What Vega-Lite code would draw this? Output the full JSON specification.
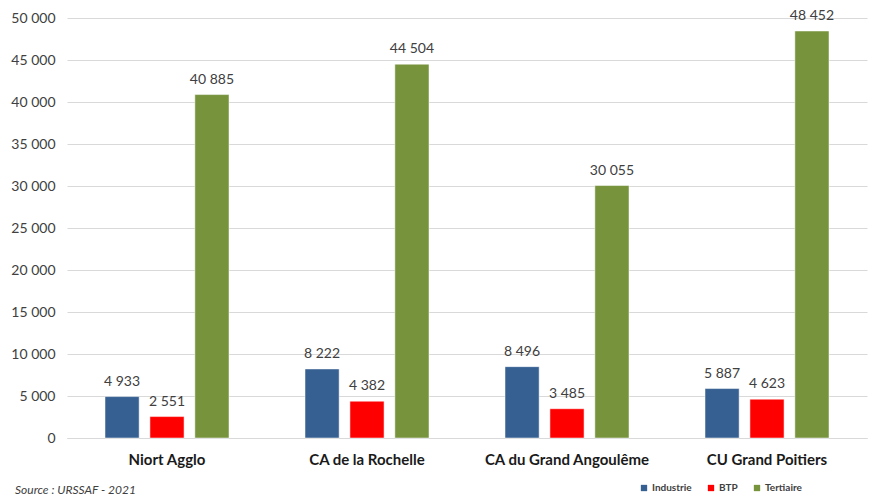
{
  "$schema": "https://vega.github.io/schema/vega-lite/v6.json",
  "width": 800,
  "height": 420,
  "autosize": {"type": "none"},
  "padding": {"left": 67, "top": 18, "right": 8, "bottom": 66},
  "background": "white",
  "config": {
    "locale": {"number": {"decimal": ",", "thousands": " ", "grouping": [3], "currency": ["", " €"]}},
    "font": "Lato",
    "view": {"stroke": null}
  },
  "title": {
    "text": "Source : URSSAF  - 2021",
    "orient": "bottom",
    "anchor": "start",
    "frame": "group",
    "fontStyle": "italic",
    "fontWeight": "normal",
    "fontSize": 12,
    "color": "#404040",
    "dx": -52,
    "offset": -8
  },
  "data": {
    "values": [
      {"territoire": "Niort Agglo", "secteur": "Industrie", "effectif": 4933},
      {"territoire": "Niort Agglo", "secteur": "BTP", "effectif": 2551},
      {"territoire": "Niort Agglo", "secteur": "Tertiaire", "effectif": 40885},
      {"territoire": "CA de la Rochelle", "secteur": "Industrie", "effectif": 8222},
      {"territoire": "CA de la Rochelle", "secteur": "BTP", "effectif": 4382},
      {"territoire": "CA de la Rochelle", "secteur": "Tertiaire", "effectif": 44504},
      {"territoire": "CA du Grand Angoulême", "secteur": "Industrie", "effectif": 8496},
      {"territoire": "CA du Grand Angoulême", "secteur": "BTP", "effectif": 3485},
      {"territoire": "CA du Grand Angoulême", "secteur": "Tertiaire", "effectif": 30055},
      {"territoire": "CU Grand Poitiers", "secteur": "Industrie", "effectif": 5887},
      {"territoire": "CU Grand Poitiers", "secteur": "BTP", "effectif": 4623},
      {"territoire": "CU Grand Poitiers", "secteur": "Tertiaire", "effectif": 48452}
    ]
  },
  "encoding": {
    "x": {
      "field": "territoire",
      "type": "nominal",
      "sort": null,
      "scale": {"paddingInner": 0.38, "paddingOuter": 0.19},
      "axis": {
        "title": null,
        "labelAngle": 0,
        "labelFontWeight": "bold",
        "labelFontSize": 15,
        "labelColor": "#1a1a1a",
        "labelPadding": 14,
        "ticks": false,
        "domainColor": "#d9d9d9",
        "domainWidth": 1
      }
    },
    "xOffset": {
      "field": "secteur",
      "type": "nominal",
      "sort": ["Industrie", "BTP", "Tertiaire"],
      "scale": {"paddingInner": 0.24, "paddingOuter": 0}
    },
    "y": {
      "field": "effectif",
      "type": "quantitative",
      "scale": {"domain": [0, 50000], "nice": false},
      "axis": {
        "title": null,
        "values": [0, 5000, 10000, 15000, 20000, 25000, 30000, 35000, 40000, 45000, 50000],
        "format": ",d",
        "labelFontSize": 14,
        "labelColor": "#404040",
        "labelPadding": 12,
        "ticks": false,
        "domain": false,
        "gridColor": "#d9d9d9",
        "gridWidth": 1
      }
    }
  },
  "layer": [
    {
      "mark": {"type": "bar", "stroke": "white", "strokeWidth": 0.5},
      "encoding": {
        "color": {
          "field": "secteur",
          "type": "nominal",
          "sort": ["Industrie", "BTP", "Tertiaire"],
          "scale": {"domain": ["Industrie", "BTP", "Tertiaire"], "range": ["#376092", "#ff0000", "#77933c"]},
          "legend": {
            "title": null,
            "orient": "none",
            "direction": "horizontal",
            "legendX": 572,
            "legendY": 465,
            "gridAlign": "none",
            "symbolType": "square",
            "symbolSize": 40,
            "symbolStrokeWidth": 0,
            "labelFontSize": 10,
            "labelFontWeight": "bold",
            "labelColor": "#404040",
            "columnPadding": 14,
            "labelOffset": 3
          }
        }
      }
    },
    {
      "mark": {"type": "text", "baseline": "bottom", "dy": -8, "fontSize": 14, "color": "#404040"},
      "encoding": {
        "text": {"field": "effectif", "type": "quantitative", "format": ",d"}
      }
    }
  ]
}
